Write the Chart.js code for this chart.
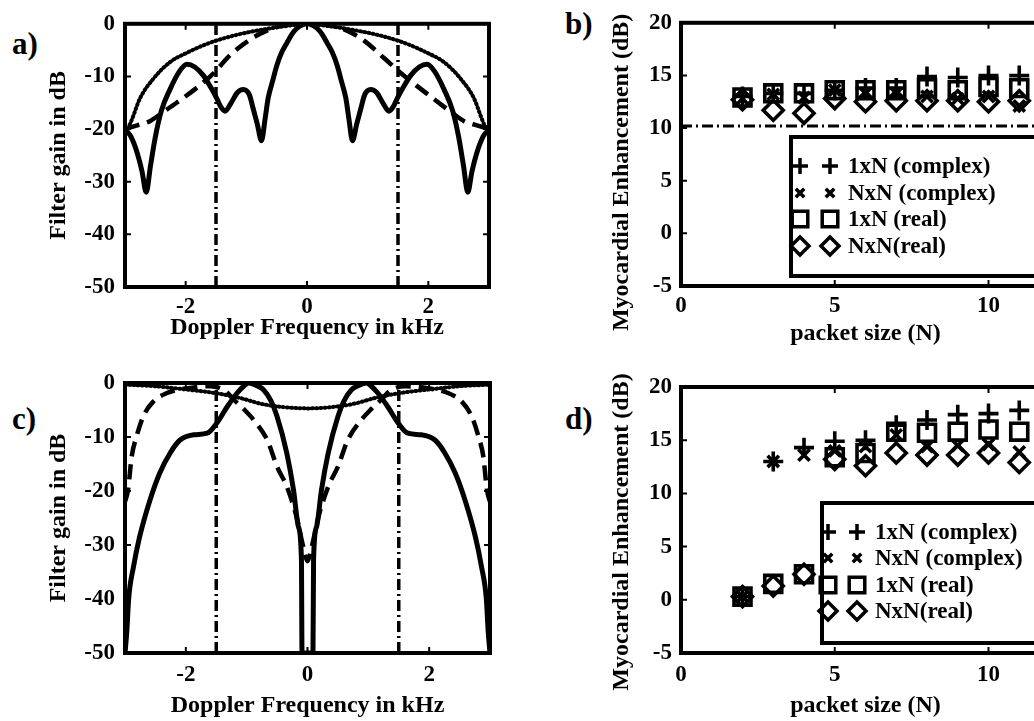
<!DOCTYPE html>
<html>
<head>
<meta charset="utf-8">
<script src="https://cdn.jsdelivr.net/npm/chart.js@4.4.1/dist/chart.umd.min.js"></script>
<style>
  html, body { margin: 0; padding: 0; background: #fff; }
  body { width: 1034px; height: 721px; overflow: hidden; position: relative; font-family: 'Liberation Serif', 'Times New Roman', serif; }
  canvas { position: absolute; }
  .lab { position: absolute; font-weight: bold; font-size: 31px; line-height: 31px; }
</style>
</head>
<body>
<div class="lab" style="left:12px;top:28px">a)</div>
<div class="lab" style="left:565px;top:8px">b)</div>
<div class="lab" style="left:12px;top:403px">c)</div>
<div class="lab" style="left:565px;top:403px">d)</div>

<canvas id="chartA" width="517" height="345" style="left:0;top:0"></canvas>
<canvas id="chartB" width="560" height="355" style="left:520px;top:0"></canvas>
<canvas id="chartC" width="517" height="376" style="left:0;top:345px"></canvas>
<canvas id="chartD" width="560" height="376" style="left:520px;top:345px"></canvas>

<script>
// ---- panel a: filter responses (kHz, dB)
const freqA_solid = [-3.0,-2.9,-2.8,-2.72,-2.65,-2.58,-2.5,-2.4,-2.26,-2.1,-1.98,-1.85,-1.71,-1.58,-1.49,-1.42,-1.35,-1.25,-1.15,-1.05,-0.95,-0.89,-0.82,-0.75,-0.69,-0.64,-0.57,-0.5,-0.42,-0.33,-0.25,-0.17,-0.08,0,
  0.08,0.17,0.25,0.33,0.42,0.5,0.57,0.64,0.69,0.75,0.82,0.89,0.95,1.05,1.15,1.25,1.35,1.42,1.49,1.58,1.71,1.85,1.98,2.1,2.26,2.4,2.5,2.58,2.65,2.72,2.8,2.9,3.0];
const gainA_solid = [-20,-21.5,-24.5,-28,-32,-27,-21.5,-16.5,-12.5,-9,-7.7,-8.2,-9.8,-12.2,-14.1,-15.8,-16.6,-15,-13.1,-12.5,-13.5,-16,-19,-22.2,-18,-14.1,-11,-8,-5.5,-3.6,-2,-0.9,-0.2,0,
  -0.2,-0.9,-2,-3.6,-5.5,-8,-11,-14.1,-18,-22.2,-19,-16,-13.5,-12.5,-13.1,-15,-16.6,-15.8,-14.1,-12.2,-9.8,-8.2,-7.7,-9,-12.5,-16.5,-21.5,-27,-32,-28,-24.5,-21.5,-20];
const freqA_dash = [-3.0,-2.8,-2.59,-2.4,-2.15,-1.8,-1.55,-1.27,-0.94,-0.66,-0.39,0,0.39,0.66,0.94,1.27,1.55,1.8,2.15,2.4,2.59,2.8,3.0];
const gainA_dash = [-20,-19.3,-18.5,-17,-15,-12,-9.5,-6,-3,-1.3,-0.3,0,-0.3,-1.3,-3.2,-6.5,-9.4,-11.7,-14.8,-17,-18.5,-19.3,-20];
const freqA_dot = [-3.0,-2.92,-2.75,-2.53,-2.26,-1.98,-1.6,-1.16,-0.73,-0.26,0,0.26,0.73,1.16,1.6,1.98,2.26,2.53,2.75,2.92,3.0];
const gainA_dot = [-20.5,-19.1,-14.1,-10.4,-7.3,-5.5,-3.6,-2.1,-1.1,-0.3,0,-0.3,-1.1,-2.1,-3.6,-5.5,-7.3,-10.4,-14.1,-19.1,-20.5];

// ---- panel c
const freqC_solid = [-3.0,-2.97,-2.94,-2.86,-2.76,-2.59,-2.43,-2.26,-2.1,-1.87,-1.65,-1.49,-1.32,-1.16,-1.05,-0.97,-0.85,-0.72,-0.6,-0.5,-0.34,-0.23,-0.15,-0.1,-0.09,
  0.09,0.1,0.15,0.23,0.34,0.5,0.6,0.72,0.85,0.97,1.05,1.16,1.32,1.49,1.65,1.87,2.1,2.26,2.43,2.59,2.76,2.86,2.94,2.97,3.0];
const gainC_solid = [-50,-46,-40,-34,-28.5,-21.7,-16.7,-13,-10.6,-9.6,-9.3,-7.4,-4.4,-1.9,-0.6,0,-0.4,-1.3,-3.3,-6.2,-13,-19.8,-26.6,-32.5,-50,
  -50,-32.5,-26.6,-19.8,-13,-6.2,-3.3,-1.3,-0.4,0,-0.6,-1.9,-4.4,-7.4,-9.3,-9.6,-10.6,-13,-16.7,-21.7,-28.5,-34,-40,-46,-50];
const freqC_dash = [-3.0,-2.95,-2.89,-2.81,-2.7,-2.54,-2.32,-1.99,-1.6,-1.35,-1.21,-1.05,-0.88,-0.66,-0.5,-0.34,-0.18,-0.07,0,
  0.07,0.18,0.34,0.5,0.66,0.88,1.05,1.21,1.35,1.6,1.99,2.32,2.54,2.7,2.81,2.89,2.95,3.0];
const gainC_dash = [-22,-19.8,-13.6,-9.9,-6.2,-3.5,-1.9,-1.0,-0.6,-1.5,-3.1,-4.8,-6.9,-10.6,-15.5,-19.2,-24.8,-30.3,-33,
  -30.3,-24.8,-19.2,-15.5,-10.6,-6.9,-4.8,-3.1,-1.5,-0.6,-1.0,-1.9,-3.5,-6.2,-9.9,-13.6,-19.8,-22];
const freqC_dot = [-3.0,-2.5,-2.0,-1.5,-1.1,-0.78,-0.45,0,0.45,0.78,1.1,1.5,2.0,2.5,3.0];
const gainC_dot = [-0.3,-0.6,-1.2,-1.9,-2.8,-3.8,-4.4,-4.7,-4.4,-3.8,-2.8,-1.9,-1.2,-0.6,-0.3];

const cutoffF = [-1.5, 1.5];

// ---- panels b and d: myocardial enhancement (dB) vs packet size
const packetN = [2, 3, 4, 5, 6, 7, 8, 9, 10, 11];
const b_1xN_complex = [13.0, 13.3, 13.3, 13.6, 13.8, 13.8, 14.9, 14.8, 15.0, 15.0];
const b_NxN_complex = [12.8, 13.2, 12.9, 13.6, 13.3, 13.3, 13.0, 12.8, 13.0, 12.1];
const b_1xN_real    = [12.9, 13.3, 13.3, 13.6, 13.6, 13.6, 13.8, 13.6, 13.9, 13.8];
const b_NxN_real    = [12.7, 11.7, 11.4, 12.8, 12.5, 12.6, 12.6, 12.6, 12.5, 12.6];
const b_threshold = 10.2;

const d_1xN_complex = [0.3, 13.0, 14.3, 14.9, 15.0, 16.4, 16.9, 17.4, 17.5, 17.8];
const d_NxN_complex = [0.3, 13.0, 13.6, 14.0, 14.4, 15.5, 14.4, 14.5, 14.6, 13.9];
const d_1xN_real    = [0.3, 1.5, 2.4, 13.4, 13.8, 15.8, 15.7, 15.8, 16.0, 15.8];
const d_NxN_real    = [0.3, 1.3, 2.4, 13.2, 12.6, 13.8, 13.6, 13.6, 13.8, 12.9];

const legendLabels = ['1xN (complex)', 'NxN (complex)', '1xN (real)', 'NxN(real)'];

const xTicksF = [-2, 0, 2];
const yTicksGain = [0, -10, -20, -30, -40, -50];
const xTicksN = [0, 5, 10];
const yTicksME = [-5, 0, 5, 10, 15, 20];

Chart.defaults.font.family = "'Liberation Serif', 'Times New Roman', serif";
Chart.defaults.font.weight = 'bold';
Chart.defaults.color = '#000';

function curve(xs, ys, dash, width, cap) {
  return {
    data: xs.map((x, i) => ({ x: x, y: ys[i] })),
    showLine: true, borderColor: '#000', borderWidth: width,
    borderDash: dash, borderCapStyle: cap || 'butt',
    pointRadius: 0, cubicInterpolationMode: 'monotone', fill: false
  };
}

function vline(x, y0, y1) {
  return {
    data: [{ x: x, y: y0 }, { x: x, y: y1 }],
    showLine: true, borderColor: '#000', borderWidth: 3.5,
    borderDash: [11, 4, 2, 4], pointRadius: 0
  };
}

function markers(label, values, style, r) {
  return {
    label: label,
    data: packetN.map((n, i) => ({ x: n, y: values[i] })),
    pointStyle: style, pointRadius: r, pointBorderWidth: 3.6,
    pointBorderColor: '#000', pointBackgroundColor: 'rgba(0,0,0,0)',
    showLine: false
  };
}

// matlab style box with inward ticks
const framePlugin = {
  id: 'frame',
  afterDatasetsDraw(chart) {
    const ctx = chart.ctx, a = chart.chartArea, sx = chart.scales.x, sy = chart.scales.y;
    ctx.save();
    ctx.strokeStyle = '#000';
    ctx.lineWidth = 2;
    ctx.beginPath();
    sx.ticks.forEach(t => {
      const p = sx.getPixelForValue(t.value);
      ctx.moveTo(p, a.bottom); ctx.lineTo(p, a.bottom - 6);
      ctx.moveTo(p, a.top); ctx.lineTo(p, a.top + 6);
    });
    sy.ticks.forEach(t => {
      const p = sy.getPixelForValue(t.value);
      ctx.moveTo(a.left, p); ctx.lineTo(a.left + 6, p);
      ctx.moveTo(a.right, p); ctx.lineTo(a.right - 6, p);
    });
    ctx.stroke();
    ctx.lineWidth = 4;
    ctx.strokeRect(a.left, a.top, a.right - a.left, a.bottom - a.top);
    ctx.restore();
  }
};

function drawMarker(ctx, style, x, y, r) {
  const d = r * Math.SQRT1_2;
  ctx.beginPath();
  if (style === 'cross') {
    ctx.moveTo(x - r, y); ctx.lineTo(x + r, y);
    ctx.moveTo(x, y - r); ctx.lineTo(x, y + r);
  } else if (style === 'crossRot') {
    ctx.moveTo(x - d, y - d); ctx.lineTo(x + d, y + d);
    ctx.moveTo(x - d, y + d); ctx.lineTo(x + d, y - d);
  } else if (style === 'rect') {
    ctx.rect(x - d, y - d, 2 * d, 2 * d);
  } else {
    ctx.moveTo(x, y - r); ctx.lineTo(x + r, y); ctx.lineTo(x, y + r); ctx.lineTo(x - r, y); ctx.closePath();
  }
  ctx.stroke();
}

const legendSize = { cross: 8, crossRot: 6, rect: 11, rectRot: 9 };

const boxLegend = {
  id: 'boxLegend',
  afterDraw(chart, args, o) {
    if (!o || !o.rows) return;
    const ctx = chart.ctx;
    ctx.save();
    ctx.fillStyle = '#fff';
    ctx.fillRect(o.x, o.y, o.w, o.h);
    ctx.strokeStyle = '#000';
    ctx.lineWidth = 4;
    ctx.strokeRect(o.x, o.y, o.w, o.h);
    ctx.font = "bold 23px 'Liberation Serif', serif";
    ctx.fillStyle = '#000';
    ctx.textBaseline = 'middle';
    ctx.lineWidth = 3.5;
    const sets = chart.data.datasets.filter(ds => ds.label && ds.pointRadius > 0);
    sets.forEach((ds, i) => {
      const y = o.rows[i];
      drawMarker(ctx, ds.pointStyle, o.m1, y, legendSize[ds.pointStyle]);
      drawMarker(ctx, ds.pointStyle, o.m2, y, legendSize[ds.pointStyle]);
      ctx.fillText(ds.label, o.tx, y + 1);
    });
    ctx.restore();
  }
};

function axes(c) {
  return {
    x: {
      type: 'linear', min: c.xmin, max: c.xmax,
      afterBuildTicks: s => { s.ticks = c.xticks.map(v => ({ value: v })); },
      afterFit: s => { s.height = c.xh; },
      grid: { display: false, drawTicks: false }, border: { display: false },
      ticks: { padding: c.xpad, font: { size: 23, weight: 'bold' }, color: '#000' },
      title: { display: true, text: c.xtitle, color: '#000', font: { size: 24, weight: 'bold' }, padding: { top: 0, bottom: c.xtpad } }
    },
    y: {
      type: 'linear', min: c.ymin, max: c.ymax,
      afterBuildTicks: s => { s.ticks = c.yticks.map(v => ({ value: v })); },
      afterFit: s => { s.width = c.yw; },
      grid: { display: false, drawTicks: false }, border: { display: false },
      ticks: { padding: c.ypad, font: { size: 23, weight: 'bold' }, color: '#000' },
      title: { display: true, text: c.ytitle, color: '#000', font: { size: 24, weight: 'bold' }, padding: { top: c.ytpad, bottom: 0 } }
    }
  };
}

function makeChart(id, datasets, pad, axCfg, legendCfg) {
  return new Chart(document.getElementById(id), {
    type: 'scatter',
    data: { datasets: datasets },
    options: {
      responsive: false, animation: false,
      layout: { padding: pad },
      plugins: { legend: { display: false }, tooltip: { enabled: false }, boxLegend: legendCfg || {} },
      scales: axes(axCfg)
    },
    plugins: [framePlugin, boxLegend]
  });
}

// a)
makeChart('chartA', [
  curve(freqA_dot, gainA_dot, [1, 3.2], 4, 'round'),
  curve(freqA_dash, gainA_dash, [15, 8], 4.5),
  curve(freqA_solid, gainA_solid, [], 5),
  vline(cutoffF[0], -50, 0), vline(cutoffF[1], -50, 0)
], { left: 0, top: 17, right: 28, bottom: 0 }, {
  xmin: -3, xmax: 3, xticks: xTicksF, xh: 58, xpad: 6, xtitle: 'Doppler Frequency in kHz', xtpad: 3,
  ymin: -50, ymax: 0, yticks: yTicksGain, yw: 125, ypad: 10, ytitle: 'Filter gain in dB', ytpad: 44
});

// b)  (figure spaces at the end push the rotated title down a little, as in the original)
makeChart('chartB', [
  curve([0, 12], [b_threshold, b_threshold], [11, 4, 2, 4], 3),
  markers(legendLabels[0], b_1xN_complex, 'cross', 10),
  markers(legendLabels[1], b_NxN_complex, 'crossRot', 8),
  markers(legendLabels[2], b_1xN_real, 'rect', 12),
  markers(legendLabels[3], b_NxN_real, 'rectRot', 10)
], { left: 0, top: 18, right: 30, bottom: 0 }, {
  xmin: 0, xmax: 12, xticks: xTicksN, xh: 69, xpad: 6, xtitle: 'packet size (N)', xtpad: 7,
  ymin: -5, ymax: 20, yticks: yTicksME, yw: 161, ypad: 9, ytitle: 'Myocardial Enhancement (dB)\u2007\u2007\u2007', ytpad: 87
}, { x: 271, y: 137, w: 400, h: 139, rows: [166, 193, 219, 246], m1: 280, m2: 310, tx: 328 });

// c)
makeChart('chartC', [
  curve(freqC_dot, gainC_dot, [1, 3.2], 4, 'round'),
  curve(freqC_dash, gainC_dash, [15, 8], 4.5),
  curve(freqC_solid, gainC_solid, [], 5),
  vline(cutoffF[0], -50, 0), vline(cutoffF[1], -50, 0)
], { left: 0, top: 38, right: 27, bottom: 0 }, {
  xmin: -3, xmax: 3, xticks: xTicksF, xh: 68, xpad: 8, xtitle: 'Doppler Frequency in kHz', xtpad: 1,
  ymin: -50, ymax: 0, yticks: yTicksGain, yw: 125, ypad: 10, ytitle: 'Filter gain in dB', ytpad: 44
});

// d)
makeChart('chartD', [
  markers(legendLabels[0], d_1xN_complex, 'cross', 10),
  markers(legendLabels[1], d_NxN_complex, 'crossRot', 8),
  markers(legendLabels[2], d_1xN_real, 'rect', 12),
  markers(legendLabels[3], d_NxN_real, 'rectRot', 10)
], { left: 0, top: 42, right: 30, bottom: 0 }, {
  xmin: 0, xmax: 12, xticks: xTicksN, xh: 68, xpad: 8, xtitle: 'packet size (N)', xtpad: 1,
  ymin: -5, ymax: 20, yticks: yTicksME, yw: 161, ypad: 9, ytitle: 'Myocardial Enhancement (dB)\u2007\u2007', ytpad: 87
}, { x: 302, y: 158, w: 400, h: 140, rows: [187, 213, 240, 266], m1: 308, m2: 337, tx: 355 });
</script>
</body>
</html>
